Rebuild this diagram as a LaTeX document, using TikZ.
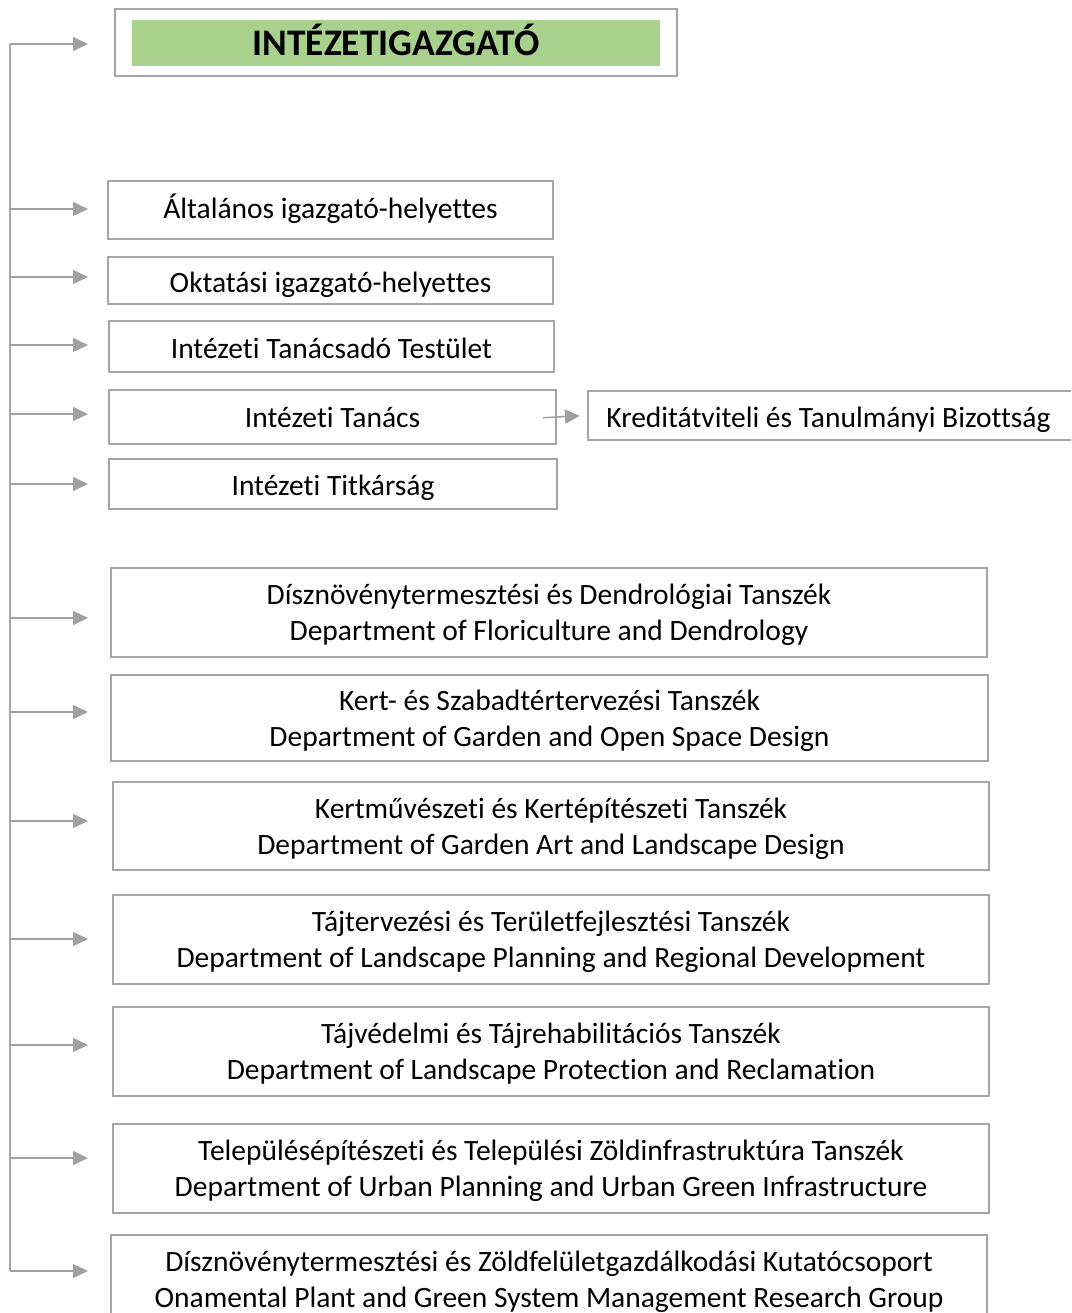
\documentclass[tikz,border=0pt]{standalone}
\usepackage{fontspec}
\setmainfont{Carlito}[Ligatures=NoCommon]
\usetikzlibrary{arrows.meta}
\definecolor{bordergray}{HTML}{A6A6A6}
\definecolor{arrowgray}{HTML}{A0A0A0}
\definecolor{headgreen}{HTML}{A9D18E}
\newcommand\shifttext[2]{\raisebox{#1}[\height][\depth]{#2}}
\newcommand\twolines[2]{\raisebox{-3pt}[\height][\depth]{\begin{tabular}{@{}c@{}}#1\\#2\end{tabular}}}
\tikzset{
  box/.style={draw=bordergray, line width=2pt, fill=white, inner sep=0pt,
    font=\fontsize{29.5}{36}\selectfont, text=black},
  arr/.style={draw=arrowgray, line width=1.5pt, -{Triangle[length=15pt,width=14pt]}},
  trunkline/.style={draw=bordergray, line width=1.5pt}
}
\begin{document}
\begin{tikzpicture}[x=1pt,y=-1pt]
\useasboundingbox (0,0) rectangle (1071,1313);
\clip (0,0) rectangle (1071,1313);
% trunk coordinates
\coordinate (a0) at (10,44);
\coordinate (a1) at (10,209);
\coordinate (a2) at (10,277);
\coordinate (a3) at (10,345);
\coordinate (a4) at (10,414);
\coordinate (a5) at (10,484);
\coordinate (a6) at (10,618);
\coordinate (a7) at (10,712);
\coordinate (a8) at (10,821);
\coordinate (a9) at (10,939);
\coordinate (a10) at (10,1045);
\coordinate (a11) at (10,1158);
\coordinate (a12) at (10,1271);
% header
\node[box, minimum width=562pt, minimum height=67pt] (hdr) at (396,42.5) {};
\node[fill=headgreen, inner sep=0pt, minimum width=528pt, minimum height=46pt,
  font=\fontsize{37.5}{40}\selectfont\bfseries] (hdrtxt) at (396,43) {\shifttext{3pt}{INTÉZETIGAZGATÓ}};
% small boxes
\node[box, minimum width=445pt, minimum height=58pt] (alt) at (330.5,210) {\shifttext{1pt}{Általános igazgató-helyettes}};
\node[box, minimum width=445pt, minimum height=47pt] (okt) at (330.5,280.5) {\shifttext{-4pt}{Oktatási igazgató-helyettes}};
\node[box, minimum width=445pt, minimum height=51pt] (itt) at (331.5,346.5) {\shifttext{-2pt}{Intézeti Tanácsadó Testület}};
\node[box, minimum width=447pt, minimum height=54pt] (it) at (332.5,417) {Intézeti Tanács};
\node[box, minimum width=448pt, minimum height=50pt] (titk) at (333,484) {\shifttext{-4pt}{Intézeti Titkárság}};
\node[box, minimum width=520pt, minimum height=49pt] (kb) at (848,415.5) {\hspace*{-39pt}\shifttext{-4pt}{Kreditátviteli és Tanulmányi Bizottság}};
% departments
\node[box, minimum width=876pt, minimum height=89pt] (d1) at (549,612.5)
  {\twolines{Dísznövénytermesztési és Dendrológiai Tanszék}{Department of Floriculture and Dendrology}};
\node[box, minimum width=877pt, minimum height=86pt] (d2) at (549.5,718)
  {\twolines{Kert- és Szabadtértervezési Tanszék}{Department of Garden and Open Space Design}};
\node[box, minimum width=876pt, minimum height=88pt] (d3) at (551,826)
  {\twolines{Kertművészeti és Kertépítészeti Tanszék}{Department of Garden Art and Landscape Design}};
\node[box, minimum width=876pt, minimum height=89pt] (d4) at (551,939.5)
  {\twolines{Tájtervezési és Területfejlesztési Tanszék}{Department of Landscape Planning and Regional Development}};
\node[box, minimum width=876pt, minimum height=89pt] (d5) at (551,1051.5)
  {\twolines{Tájvédelmi és Tájrehabilitációs Tanszék}{Department of Landscape Protection and Reclamation}};
\node[box, minimum width=876pt, minimum height=89pt] (d6) at (551,1168.5)
  {\twolines{Településépítészeti és Települési Zöldinfrastruktúra Tanszék}{Department of Urban Planning and Urban Green Infrastructure}};
\node[box, minimum width=876pt, minimum height=89pt] (d7) at (549,1279.5)
  {\twolines{Dísznövénytermesztési és Zöldfelületgazdálkodási Kutatócsoport}{Onamental Plant and Green System Management Research Group}};
% trunk
\draw[trunkline] (a0) -- (a12);
% arrows
\draw[arr, shorten >=26pt] (a0) -- (a0 -| hdr.west);
\draw[arr, shorten >=19pt] (a1) -- (a1 -| alt.west);
\draw[arr, shorten >=19pt] (a2) -- (a2 -| okt.west);
\draw[arr, shorten >=20pt] (a3) -- (a3 -| itt.west);
\draw[arr, shorten >=20pt] (a4) -- (a4 -| it.west);
\draw[arr, shorten >=20pt] (a5) -- (a5 -| titk.west);
\draw[arr, shorten >=22pt] (a6) -- (a6 -| d1.west);
\draw[arr, shorten >=22pt] (a7) -- (a7 -| d2.west);
\draw[arr, shorten >=24pt] (a8) -- (a8 -| d3.west);
\draw[arr, shorten >=24pt] (a9) -- (a9 -| d4.west);
\draw[arr, shorten >=24pt] (a10) -- (a10 -| d5.west);
\draw[arr, shorten >=24pt] (a11) -- (a11 -| d6.west);
\draw[arr, shorten >=22pt] (a12) -- (a12 -| d7.west);
\draw[arr, shorten >=7pt, shorten <=-14pt] (it.east) -- (kb.west);
\end{tikzpicture}
\end{document}
